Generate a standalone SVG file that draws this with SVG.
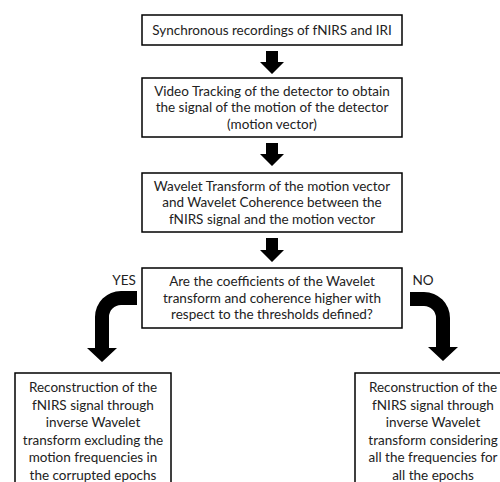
<svg xmlns="http://www.w3.org/2000/svg" width="500" height="482" viewBox="0 0 500 482">
<style>
.box{fill:#fff;stroke:#000;stroke-width:1.5}
.t{font-family:Lato,"Liberation Sans",sans-serif;font-size:13.5px;fill:#222;text-anchor:middle}
.arr{fill:#000}
</style>
<rect width="500" height="482" fill="#fff"/>
<g id="connectors">
<path class="arr" d="M266,51 H278 V62 H284 L272,74 L260,62 H266 Z"/>
<path class="arr" d="M266,143 H278 V154 H284 L272,166 L260,154 H266 Z"/>
<path class="arr" d="M266,238 H278 V250 H284 L272,262 L260,250 H266 Z"/>
<path class="arr" d="M137,291 H121 A26,26 0 0 0 95,317 V348 H87 L102,362 L117,348 H109 V317 A12,12 0 0 1 121,305 H137 Z"/>
<path class="arr" d="M410,292 H424 A26,26 0 0 1 450,318 V347 H458 L443,361 L428,347 H436 V318 A12,12 0 0 0 424,306 H410 Z"/>
<text class="t" x="124" y="285">YES</text>
<text class="t" x="423" y="285">NO</text>
</g>
<g id="n1">
<rect class="box" x="142" y="15" width="260" height="30"/>
<text class="t" x="272" y="35">Synchronous recordings of fNIRS and IRI</text>
</g>
<g id="n2">
<rect class="box" x="142" y="78" width="260" height="59"/>
<text class="t" x="272" y="95.5">Video Tracking of the detector to obtain</text>
<text class="t" x="272" y="112">the signal of the motion of the detector</text>
<text class="t" x="272" y="128.5">(motion vector)</text>
</g>
<g id="n3">
<rect class="box" x="142" y="173" width="260" height="59"/>
<text class="t" x="272" y="190.5">Wavelet Transform of the motion vector</text>
<text class="t" x="272" y="207">and Wavelet Coherence between the</text>
<text class="t" x="272" y="223.5">fNIRS signal and the motion vector</text>
</g>
<g id="n4">
<rect class="box" x="142" y="268" width="260" height="60"/>
<text class="t" x="272" y="286">Are the coefficients of the Wavelet</text>
<text class="t" x="272" y="302.5">transform and coherence higher with</text>
<text class="t" x="272" y="319">respect to the thresholds defined?</text>
</g>
<g id="n5">
<rect class="box" x="15" y="373" width="156" height="120"/>
<text class="t" x="93" y="392">Reconstruction of the</text>
<text class="t" x="93" y="409.5">fNIRS signal through</text>
<text class="t" x="93" y="427">inverse Wavelet</text>
<text class="t" x="93" y="444.5">transform excluding the</text>
<text class="t" x="93" y="462">motion frequencies in</text>
<text class="t" x="93" y="479.5">the corrupted epochs</text>
</g>
<g id="n6">
<rect class="box" x="355" y="373" width="156" height="120"/>
<text class="t" x="433" y="392">Reconstruction of the</text>
<text class="t" x="433" y="409.5">fNIRS signal through</text>
<text class="t" x="433" y="427">inverse Wavelet</text>
<text class="t" x="433" y="444.5">transform considering</text>
<text class="t" x="433" y="462">all the frequencies for</text>
<text class="t" x="433" y="479.5">all the epochs</text>
</g>
</svg>
